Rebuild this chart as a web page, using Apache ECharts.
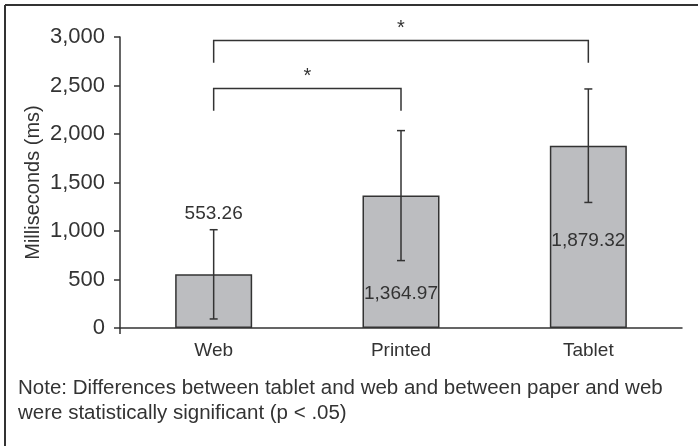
<!DOCTYPE html>
<html lang="en">
<head>
  <meta charset="UTF-8" />
  <title>Response time by medium</title>
  <script src="https://cdn.jsdelivr.net/npm/echarts@6/dist/echarts.min.js"></script>
  <style>
    body { margin: 0; background: #fff; }
    #chart { width: 698px; height: 446px; }
  </style>
</head>
<body>
  <div id="chart"></div>

  <script>
    // data
    const categories = ['Web', 'Printed', 'Tablet'];
    const means = [553.26, 1364.97, 1879.32];
    const errors = [460, 670, 585];          // +/- half length of error bars
    // [from category, to category, bracket level, foot level]
    const brackets = [
      [0, 1, 2470, 2240],
      [0, 2, 2965, 2735]
    ];
    const yMin = 0, yMax = 3000, yStep = 500;
    const noteText = 'Note: Differences between tablet and web and between paper and web\nwere statistically significant (p < .05)';

    const ink = '#333';
    const font = 'Liberation Sans, Arial, sans-serif';
    // where each value label sits, relative to its bar
    const labelPlace = [
      { position: 'top', distance: 51 },
      { position: 'insideBottom', distance: 25 },
      { position: 'insideBottom', distance: 78 }
    ];

    const fmt = v => v.toLocaleString('en-US', { minimumFractionDigits: 2, maximumFractionDigits: 2 });

    const chart = echarts.init(document.getElementById('chart'));
    chart.setOption({
      animation: false,
      textStyle: { fontFamily: font, color: ink },
      grid: { left: 120, right: 16, top: 37, bottom: 118 },
      xAxis: {
        type: 'category',
        data: categories,
        axisLine: { lineStyle: { color: ink, width: 1.5 } },
        axisTick: { show: false },
        axisLabel: { fontSize: 19, color: ink, margin: 13 }
      },
      yAxis: {
        type: 'value',
        min: yMin, max: yMax, interval: yStep,
        name: 'Milliseconds (ms)',
        nameLocation: 'middle',
        nameGap: 77,
        nameMoveOverlap: false,
        nameTextStyle: { fontSize: 20, color: ink },
        axisLine: { show: true, lineStyle: { color: ink, width: 1.5 } },
        axisTick: { show: true, length: 6, lineStyle: { color: ink, width: 1.5 } },
        splitLine: { show: false },
        axisLabel: {
          fontSize: 22, color: ink, margin: 15,
          formatter: v => v.toLocaleString('en-US')
        }
      },
      graphic: [
        { type: 'line', shape: { x1: 5, y1: 5, x2: 698, y2: 5 }, style: { stroke: ink, lineWidth: 2 } },
        { type: 'line', shape: { x1: 5, y1: 5, x2: 5, y2: 446 }, style: { stroke: ink, lineWidth: 2 } },
        // small stub of the y axis below the baseline
        { type: 'line', shape: { x1: 120, y1: 328, x2: 120, y2: 334 }, style: { stroke: ink, lineWidth: 1.5 } },
        {
          type: 'text', left: 18, top: 376,
          style: { text: noteText, fontSize: 20.5, lineHeight: 25, fill: ink, fontFamily: font }
        }
      ],
      series: [
        {
          type: 'bar',
          barWidth: 77,
          data: means.map((v, i) => ({
            value: v,
            label: {
              show: true,
              position: labelPlace[i].position,
              distance: labelPlace[i].distance,
              formatter: p => fmt(p.value),
              fontSize: 19, color: ink
            }
          })),
          itemStyle: { color: '#bcbdc0', borderColor: ink, borderWidth: 1.5 },
          z: 2
        },
        {
          type: 'custom',
          data: means.map((v, i) => [i, v - errors[i], v + errors[i]]),
          encode: { x: 0, y: [1, 2] },
          z: 3,
          renderItem: (params, api) => {
            const lo = api.coord([api.value(0), api.value(1)]);
            const hi = api.coord([api.value(0), api.value(2)]);
            const w = 4;
            const st = { stroke: ink, lineWidth: 1.5 };
            return {
              type: 'group',
              children: [
                { type: 'line', shape: { x1: lo[0], y1: lo[1], x2: hi[0], y2: hi[1] }, style: st },
                { type: 'line', shape: { x1: lo[0] - w, y1: lo[1], x2: lo[0] + w, y2: lo[1] }, style: st },
                { type: 'line', shape: { x1: hi[0] - w, y1: hi[1], x2: hi[0] + w, y2: hi[1] }, style: st }
              ]
            };
          }
        },
        {
          type: 'custom',
          data: brackets,
          encode: { x: [0, 1], y: [2, 3] },
          clip: false,
          z: 3,
          renderItem: (params, api) => {
            const a = api.coord([api.value(0), api.value(2)]);
            const b = api.coord([api.value(1), api.value(2)]);
            const foot = api.coord([api.value(0), api.value(3)])[1];
            const st = { stroke: ink, lineWidth: 1.5 };
            return {
              type: 'group',
              children: [
                { type: 'polyline', shape: { points: [[a[0], foot], [a[0], a[1]], [b[0], b[1]], [b[0], foot]] }, style: Object.assign({ fill: null }, st) },
                {
                  type: 'text',
                  style: {
                    text: '*', x: (a[0] + b[0]) / 2, y: a[1] - 2,
                    align: 'center', verticalAlign: 'bottom',
                    fontSize: 20, fill: ink, fontFamily: font
                  }
                }
              ]
            };
          }
        }
      ]
    });
  </script>
</body>
</html>
